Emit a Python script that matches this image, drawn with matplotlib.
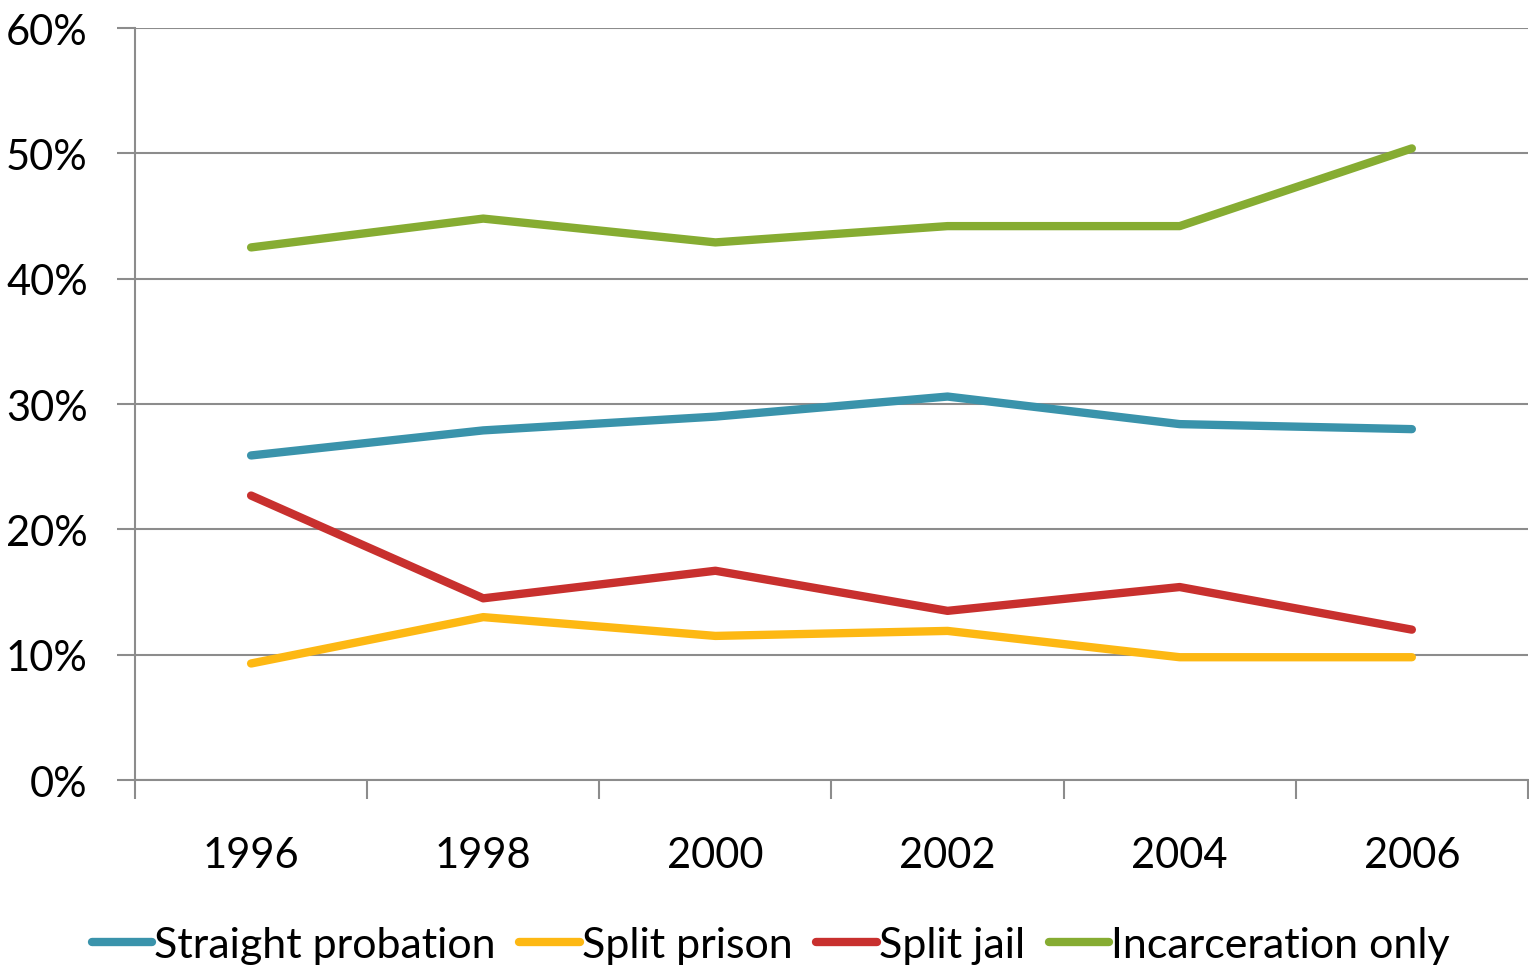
import matplotlib.pyplot as plt
from matplotlib.ticker import FuncFormatter

years = ["1996", "1998", "2000", "2002", "2004", "2006"]
straight_probation = [25.9, 27.9, 29.0, 30.6, 28.4, 28.0]
split_prison = [9.3, 13.0, 11.5, 11.9, 9.8, 9.8]
split_jail = [22.7, 14.5, 16.7, 13.5, 15.4, 12.0]
incarceration_only = [42.5, 44.8, 42.9, 44.2, 44.2, 50.4]

series = [
    ("Straight probation", straight_probation, "#3A93AB"),
    ("Split prison", split_prison, "#FDB813"),
    ("Split jail", split_jail, "#C8302E"),
    ("Incarceration only", incarceration_only, "#86AC32"),
]

plt.rcParams['font.family'] = ['Lato', 'DejaVu Sans']

fig = plt.figure(figsize=(15.29, 9.70), dpi=100)
ax = fig.add_axes([0.0883, 0.1948, 0.9110, 0.7752])

x = list(range(len(years)))
for name, vals, col in series:
    ax.plot(x, vals, color=col, lw=6, solid_capstyle='round', label=name)

ax.set_xlim(-0.5, len(years) - 0.5)
ax.set_ylim(0, 60)
ax.set_yticks(range(0, 61, 10))
ax.yaxis.set_major_formatter(FuncFormatter(lambda v, p: f"{int(v)}%"))
ax.set_xticks(x)
ax.set_xticklabels(years)
ax.set_xticks([i - 0.5 for i in range(len(years) + 1)], minor=True)

grey = "#8C8C8C"
ax.grid(axis='y', color=grey, lw=1.5)
ax.set_axisbelow(True)
for s in ['top', 'right']:
    ax.spines[s].set_visible(False)
for s in ['left', 'bottom']:
    ax.spines[s].set_color(grey)
    ax.spines[s].set_linewidth(1.5)

ax.tick_params(axis='y', length=13, width=1.5, color=grey, labelsize=30, pad=21)
ax.tick_params(axis='x', which='major', length=0, labelsize=30, pad=40)
ax.tick_params(axis='x', which='minor', length=14, width=1.5, color=grey)

leg = fig.legend(loc='lower center', bbox_to_anchor=(0.504, -0.035), ncol=4, frameon=False,
                 fontsize=31, handlelength=1.4, handletextpad=0.05, columnspacing=0.55)
for h in leg.get_lines():
    h.set_linewidth(6)

fig.savefig("out.png", dpi=100)
